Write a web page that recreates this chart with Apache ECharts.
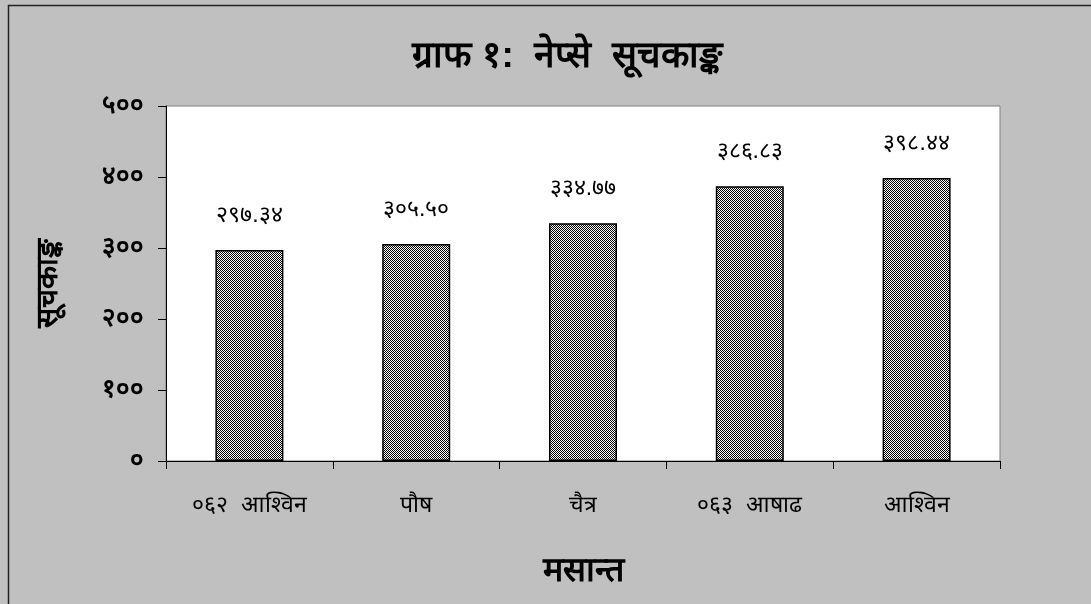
<!DOCTYPE html>
<html><head><meta charset="utf-8">
<script src="https://cdn.jsdelivr.net/npm/echarts@6/dist/echarts.min.js"></script>
<style>html,body{margin:0;padding:0;background:#c0c0c0;}#c{width:1091px;height:604px;}</style>
</head><body><div id="c"></div>
<script>
const categories = ['०६२  आश्विन', 'पौष', 'चैत्र', '०६३  आषाढ', 'आश्विन'];
const values = [297.34, 305.50, 334.77, 386.83, 398.44];
const yTicks = [0, 100, 200, 300, 400, 500];
const titleText = 'ग्राफ १:  नेप्से  सूचकाङ्क';
const yName = 'सूचकाङ्क';
const xName = 'मसान्त';

const dev = '०१२३४५६७८९';
function toDev(s){ return String(s).replace(/[0-9]/g, d => dev[+d]); }

const pc = document.createElement('canvas');
pc.width = 2; pc.height = 2;
const px = pc.getContext('2d');
px.fillStyle = '#ffffff'; px.fillRect(0,0,2,2);
px.fillStyle = '#000000'; px.fillRect(0,0,1,1); px.fillRect(1,1,1,1);

const chart = echarts.init(document.getElementById('c'), null, {renderer:'canvas'});
chart.setOption({
  backgroundColor: '#c0c0c0',
  animation: false,
  title: {
    text: titleText, left: 562, top: 33, textAlign: 'center',
    textStyle: {fontSize: 37, fontWeight: 'bold', color: '#000', fontFamily: 'sans-serif'}
  },
  graphic: [
    {type:'rect', shape:{x:8.5, y:5.5, width:1200, height:700}, style:{fill:'none', stroke:'#222', lineWidth:1.5}, silent:true}
  ],
  grid: {left:166, right:91, top:106, bottom:143, show:true, backgroundColor:'#ffffff', borderColor:'#808080', borderWidth:1},
  xAxis: {
    type:'category', data: categories,
    axisLine:{lineStyle:{color:'#000', width:1}},
    axisTick:{show:true, length:8, inside:false, alignWithLabel:false, lineStyle:{color:'#000'}},
    axisLabel:{fontSize:23, color:'#000', margin:33, fontFamily:'sans-serif'},
    name: xName, nameLocation:'middle', nameGap:94,
    nameTextStyle:{fontSize:34, fontWeight:'bold', color:'#000', fontFamily:'sans-serif'}
  },
  yAxis: {
    type:'value', min: yTicks[0], max: yTicks[yTicks.length-1], interval: 100,
    axisLine:{show:true, lineStyle:{color:'#000', width:1}},
    axisTick:{show:true, length:8, lineStyle:{color:'#000'}},
    splitLine:{show:false},
    axisLabel:{fontSize:26, fontWeight:'bold', color:'#000', margin:22, formatter: v => toDev(v), fontFamily:'sans-serif'},
    name: yName, nameLocation:'middle', nameGap:102, nameRotate:90,
    nameTextStyle:{fontSize:30, fontWeight:'bold', color:'#000', fontFamily:'sans-serif'}
  },
  series: [{
    type:'bar', data: values, barWidth: 68,
    itemStyle:{color:{image: pc, repeat:'repeat'}, borderColor:'#000', borderWidth:1.5},
    label:{show:true, position:'top', distance:23, fontSize:23, color:'#000', fontFamily:'sans-serif',
      formatter: p => toDev(p.value.toFixed(2))}
  }]
});
</script></body></html>
